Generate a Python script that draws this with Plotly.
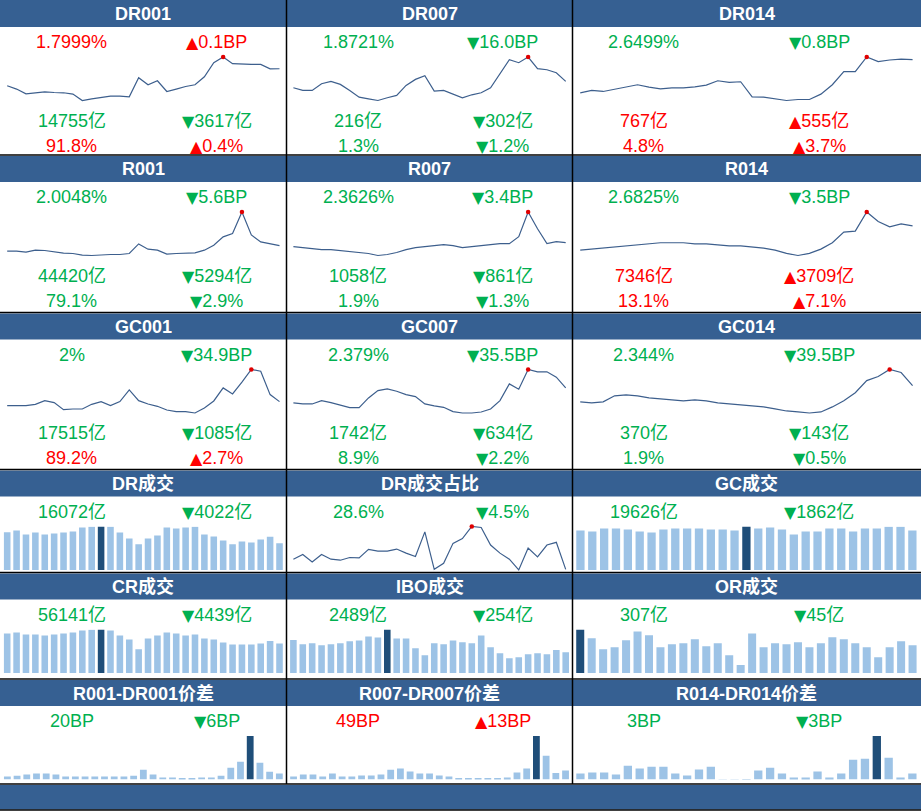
import plotly.graph_objects as go

W, H = 921, 811
FONT = "Liberation Sans, Arial, Noto Sans CJK SC, sans-serif"
HDR = "#366092"
LIGHT = "#9DC3E6"
DARK = "#1F4E79"
LINEC = "#3D5F8D"
RED = "#FF0000"
GREEN = "#00B050"

# ---------------- data (30 trading days unless noted) ----------------
DR001 = [1.630, 1.597, 1.550, 1.560, 1.570, 1.563, 1.560, 1.547, 1.483, 1.500, 1.517, 1.527, 1.527, 1.520, 1.710,
         1.640, 1.680, 1.573, 1.597, 1.623, 1.640, 1.720, 1.860, 1.917, 1.850, 1.843, 1.843, 1.843, 1.7989, 1.7999]
DR007 = [1.755, 1.706, 1.706, 1.829, 1.872, 1.817, 1.706, 1.583, 1.552, 1.521, 1.571, 1.614, 1.798, 1.909, 1.977,
         1.694, 1.706, 1.632, 1.571, 1.626, 1.663, 1.755, 2.013, 2.272, 2.216, 2.321, 2.106, 2.087, 2.0321, 1.8721]
DR014 = [2.155, 2.190, 2.175, 2.205, 2.235, 2.275, 2.240, 2.215, 2.230, 2.230, 2.245, 2.270, 2.335, 2.310, 2.320,
         2.095, 2.090, 2.060, 2.040, 2.055, 2.055, 2.135, 2.275, 2.470, 2.470, 2.690, 2.620, 2.645, 2.6579, 2.6499]
R001 = [1.801, 1.801, 1.765, 1.837, 1.825, 1.777, 1.729, 1.717, 1.657, 1.645, 1.669, 1.681, 1.681, 1.717, 2.065,
        1.873, 1.837, 1.693, 1.717, 1.717, 1.741, 1.837, 2.017, 2.317, 2.437, 3.217, 2.389, 2.137, 2.0608, 2.0048]
R007 = [2.243, 2.213, 2.183, 2.153, 2.153, 2.123, 2.093, 2.063, 2.033, 1.973, 2.003, 2.063, 2.153, 2.213, 2.243,
        2.273, 2.303, 2.273, 2.213, 2.243, 2.273, 2.303, 2.333, 2.333, 2.543, 3.293, 2.783, 2.333, 2.3966, 2.3626]
R014 = [2.223, 2.243, 2.263, 2.283, 2.303, 2.323, 2.343, 2.363, 2.363, 2.363, 2.343, 2.343, 2.323, 2.303, 2.303,
        2.283, 2.263, 2.223, 2.163, 2.123, 2.163, 2.243, 2.363, 2.563, 2.583, 2.943, 2.763, 2.663, 2.7175, 2.6825]
GC001 = [1.801, 1.801, 1.801, 1.867, 2.050, 1.950, 1.602, 1.635, 1.635, 1.867, 2.000, 1.801, 2.000, 2.581, 2.050,
         1.884, 1.768, 1.585, 1.502, 1.502, 1.436, 1.685, 2.033, 2.681, 2.382, 2.963, 3.594, 3.511, 2.349, 2.000]
GC007 = [1.879, 1.846, 1.846, 1.957, 1.891, 1.813, 1.724, 1.724, 2.046, 2.290, 2.346, 2.268, 2.157, 2.090, 1.846,
         1.780, 1.735, 1.591, 1.546, 1.546, 1.580, 1.680, 1.957, 2.512, 2.335, 2.990, 2.912, 2.912, 2.734, 2.379]
GC014 = [1.858, 1.827, 1.858, 2.040, 2.070, 2.040, 1.979, 1.949, 1.918, 1.888, 1.918, 1.888, 1.827, 1.797, 1.766,
         1.736, 1.706, 1.645, 1.584, 1.554, 1.523, 1.554, 1.706, 1.888, 2.131, 2.496, 2.618, 2.830, 2.739, 2.344]
DR_SHARE = [30.29, 31.08, 29.84, 31.08, 30.29, 30.12, 30.57, 30.51, 31.92, 31.64, 31.64, 31.98, 31.30, 30.74, 34.84,
            28.60, 29.61, 32.93, 33.72, 35.74, 35.58, 32.65, 31.30, 30.29, 28.49, 32.14, 30.68, 32.65, 33.10, 28.60]

DR_VOL = [22816, 23808, 21427, 22618, 21427, 22022, 22618, 23213, 25594, 26150, 26250, 26150, 22618, 19046, 15475,
          19046, 20832, 25594, 24998, 25594, 26100, 21427, 20237, 17856, 15475, 17261, 16666, 18451, 20094, 16072]
CR_VOL = [74856, 76727, 72985, 72985, 71113, 72985, 74856, 76727, 80470, 82200, 82500, 80470, 71113, 63628, 44914,
          65499, 71113, 76727, 74856, 71113, 72985, 65499, 63628, 58013, 54271, 54271, 54271, 56141, 60580, 56141]
IBO_VOL = [3950, 3437, 3556, 3319, 3437, 3556, 3793, 3911, 4385, 4267, 5215, 4148, 4148, 2963, 2133,
           3556, 3437, 3911, 3674, 3556, 4504, 3082, 2370, 1778, 1896, 2252, 2370, 2252, 2743, 2489]
GC_VOL = [19626, 19135, 20607, 20607, 20117, 19135, 18645, 20117, 20607, 20607, 20607, 20117, 20117, 19626, 21600,
          20607, 21098, 20117, 17663, 19135, 19135, 20607, 20607, 19135, 20607, 20607, 21488, 21488, 19626]
OR_VOL = [482, 384, 263, 285, 362, 461, 417, 285, 318, 329, 373, 296, 329, 197, 88,
          439, 285, 329, 318, 340, 285, 329, 395, 373, 329, 285, 175, 285, 352, 307]
SPREAD_1D = [10, 13, 17, 20, 20, 17, 10, 10, 10, 10, 10, 10, 10, 13, 33, 17, 7, 7, 3, 3, 7, 7, 13, 40, 60, 147, 57, 26, 20]
SPREAD_7D = [16, 27, 27, 16, 33, 16, 16, 22, 22, 27, 54, 60, 44, 33, 33, 22, 16, 5, 5, 5, 5, 5, 11, 38, 60, 240, 131, 36, 49]
SPREAD_14D = [3, 3.5, 3.5, 2.5, 7, 5.5, 6.5, 6.5, 3, 2, 5, 6.5, -2, -3, -1, 4.5, 6, 3, 1, 1, 4, 1, 3, 10, 10.5, 22, 11, 1, 3]

# ---------------- labels: [current, change] per text row ----------------
DR001_LBL = [["1.7999%", "▲0.1BP"], ["14755亿", "▼3617亿"], ["91.8%", "▲0.4%"]]
DR007_LBL = [["1.8721%", "▼16.0BP"], ["216亿", "▼302亿"], ["1.3%", "▼1.2%"]]
DR014_LBL = [["2.6499%", "▼0.8BP"], ["767亿", "▲555亿"], ["4.8%", "▲3.7%"]]
R001_LBL = [["2.0048%", "▼5.6BP"], ["44420亿", "▼5294亿"], ["79.1%", "▼2.9%"]]
R007_LBL = [["2.3626%", "▼3.4BP"], ["1058亿", "▼861亿"], ["1.9%", "▼1.3%"]]
R014_LBL = [["2.6825%", "▼3.5BP"], ["7346亿", "▲3709亿"], ["13.1%", "▲7.1%"]]
GC001_LBL = [["2%", "▼34.9BP"], ["17515亿", "▼1085亿"], ["89.2%", "▲2.7%"]]
GC007_LBL = [["2.379%", "▼35.5BP"], ["1742亿", "▼634亿"], ["8.9%", "▼2.2%"]]
GC014_LBL = [["2.344%", "▼39.5BP"], ["370亿", "▼143亿"], ["1.9%", "▼0.5%"]]
DR_VOL_LBL = [["16072亿", "▼4022亿"]]
DR_SHARE_LBL = [["28.6%", "▼4.5%"]]
GC_VOL_LBL = [["19626亿", "▼1862亿"]]
CR_VOL_LBL = [["56141亿", "▼4439亿"]]
IBO_VOL_LBL = [["2489亿", "▼254亿"]]
OR_VOL_LBL = [["307亿", "▼45亿"]]
SP1_LBL = [["20BP", "▼6BP"]]
SP7_LBL = [["49BP", "▲13BP"]]
SP14_LBL = [["3BP", "▼3BP"]]

PANELS = [
    ("DR001", 0, 0, "line", DR001, DR001_LBL),
    ("DR007", 0, 1, "line", DR007, DR007_LBL),
    ("DR014", 0, 2, "line", DR014, DR014_LBL),
    ("R001", 1, 0, "line", R001, R001_LBL),
    ("R007", 1, 1, "line", R007, R007_LBL),
    ("R014", 1, 2, "line", R014, R014_LBL),
    ("GC001", 2, 0, "line", GC001, GC001_LBL),
    ("GC007", 2, 1, "line", GC007, GC007_LBL),
    ("GC014", 2, 2, "line", GC014, GC014_LBL),
    ("DR成交", 3, 0, "bar", DR_VOL, DR_VOL_LBL),
    ("DR成交占比", 3, 1, "line", DR_SHARE, DR_SHARE_LBL),
    ("GC成交", 3, 2, "bar", GC_VOL, GC_VOL_LBL),
    ("CR成交", 4, 0, "bar", CR_VOL, CR_VOL_LBL),
    ("IBO成交", 4, 1, "bar", IBO_VOL, IBO_VOL_LBL),
    ("OR成交", 4, 2, "bar", OR_VOL, OR_VOL_LBL),
    ("R001-DR001价差", 5, 0, "bar", SPREAD_1D, SP1_LBL),
    ("R007-DR007价差", 5, 1, "bar", SPREAD_7D, SP7_LBL),
    ("R014-DR014价差", 5, 2, "bar", SPREAD_14D, SP14_LBL),
]

# ---------------- geometry (pixels) ----------------
ROW_TOP = [0, 155, 312.5, 469.5, 572.5, 679]
COL_X = [(0, 286.5), (286.5, 572.5), (572.5, 921)]
PLOT_X = [(2.5, 284.2), (288.7, 570.4), (574.5, 918.3)]
TEXT_X = [(71.7, 216.5), (358.0, 502.8), (643.8, 819.0)]
TEXT_DY = [42.2, 120.5, 145.5]
TRI_STYLE = "font-family:DejaVu Sans;font-size:16px"


def fx(p):
    return p / W


def fy(p):
    return 1 - p / H


def fmt_change(txt):
    tri, rest = txt[0], txt[1:]
    return f"<span style='{TRI_STYLE}'>{tri}</span>{rest}"


fig = go.Figure()
layout = dict(width=W, height=H, margin=dict(l=0, r=0, t=0, b=0),
              paper_bgcolor="white", plot_bgcolor="rgba(0,0,0,0)",
              showlegend=False, bargap=0.3)
shapes, annotations = [], []

for k, (title, r, c, kind, vals, labels) in enumerate(PANELS, start=1):
    y0 = ROW_TOP[r]
    cx0, cx1 = COL_X[c]
    xs = f"x{k}" if k > 1 else "x"
    ys = f"y{k}" if k > 1 else "y"
    n = len(vals)
    mx, mn = max(vals), min(vals)
    imax = vals.index(mx)
    idx = list(range(n))
    top, bot = y0 + 57, y0 + 100.5
    if kind == "line":
        s = (mx - mn) / (bot - top)
        yrange = [mn - 4 * s, mx + 4 * s]
        ydom = [fy(bot + 4), fy(top - 4)]
        fig.add_trace(go.Scatter(x=idx, y=vals, mode="lines", xaxis=xs, yaxis=ys,
                                 line=dict(color=LINEC, width=1.2), hoverinfo="skip"))
        fig.add_trace(go.Scatter(x=[imax], y=[mx], mode="markers", xaxis=xs, yaxis=ys,
                                 marker=dict(color="#E00000", size=4.5), hoverinfo="skip", cliponaxis=False))
    else:
        yrange = [0, mx]
        ydom = [fy(bot), fy(top)]
        colors = [DARK if i == imax else LIGHT for i in idx]
        fig.add_trace(go.Bar(x=idx, y=vals, xaxis=xs, yaxis=ys, marker=dict(color=colors, line=dict(width=0)),
                             hoverinfo="skip"))
    px0, px1 = PLOT_X[c]
    layout[f"xaxis{k}" if k > 1 else "xaxis"] = dict(domain=[fx(px0), fx(px1)], range=[-0.5, n - 0.5],
                                                       visible=False, anchor=ys, fixedrange=True)
    layout[f"yaxis{k}" if k > 1 else "yaxis"] = dict(domain=ydom, range=yrange, visible=False,
                                                       anchor=xs, fixedrange=True)

    # header bar
    hy0 = y0 + (0 if r == 0 else 1)
    shapes.append(dict(type="rect", xref="paper", yref="paper", x0=fx(cx0), x1=fx(cx1),
                       y0=fy(y0 + 27), y1=fy(hy0), fillcolor=HDR, line=dict(width=0), layer="below"))
    annotations.append(dict(text=f"<b>{title}</b>", x=fx((cx0 + cx1) / 2), y=fy(y0 + 14),
                            xref="paper", yref="paper", showarrow=False, xanchor="center", yanchor="middle",
                            font=dict(family=FONT, size=18, color="white")))
    # value rows
    for j, (cur, chg) in enumerate(labels):
        col = RED if "▲" in chg else GREEN
        ty = fy(y0 + TEXT_DY[j])
        for tx, txt in zip(TEXT_X[c], (cur, fmt_change(chg))):
            annotations.append(dict(text=txt, x=fx(tx), y=ty, xref="paper", yref="paper", showarrow=False,
                                    xanchor="center", yanchor="middle",
                                    font=dict(family=FONT, size=18, color=col)))

# bottom bar
shapes.append(dict(type="rect", xref="paper", yref="paper", x0=0, x1=1, y0=fy(809.5), y1=fy(785),
                   fillcolor=HDR, line=dict(width=0), layer="below"))
# grid lines
for yy in [155, 312.5, 469.5, 572.5, 679, 784, 810]:
    shapes.append(dict(type="line", xref="paper", yref="paper", x0=0, x1=1, y0=fy(yy), y1=fy(yy),
                       line=dict(color="black", width=1.5)))
for xx in [286.5, 572.5]:
    shapes.append(dict(type="line", xref="paper", yref="paper", x0=fx(xx), x1=fx(xx), y0=fy(784), y1=fy(0),
                       line=dict(color="black", width=1.5)))

layout["shapes"] = shapes
layout["annotations"] = annotations
fig.update_layout(**layout)

fig.write_html("out.html", config={"displayModeBar": False},
               post_script="document.body.style.margin='0';document.body.style.overflow='hidden';")
